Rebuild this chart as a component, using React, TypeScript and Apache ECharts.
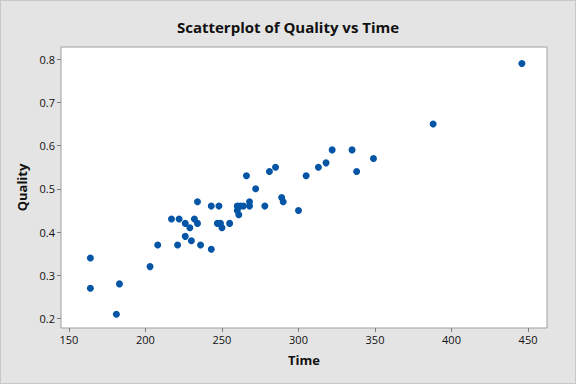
import React, { useEffect, useRef } from "react";
import * as echarts from "echarts";

const timeValues = [164, 164, 181, 183, 203, 208, 217, 221, 222, 226, 226, 229, 230, 232, 234, 234, 236, 243, 243, 247, 248, 249, 250, 255, 260, 260, 261, 262, 264, 266, 268, 268, 272, 278, 281, 285, 289, 290, 300, 305, 313, 318, 322, 335, 338, 349, 388, 446];
const qualityValues = [0.34, 0.27, 0.21, 0.28, 0.32, 0.37, 0.43, 0.37, 0.43, 0.42, 0.39, 0.41, 0.38, 0.43, 0.42, 0.47, 0.37, 0.46, 0.36, 0.42, 0.46, 0.42, 0.41, 0.42, 0.46, 0.45, 0.44, 0.46, 0.46, 0.53, 0.47, 0.46, 0.50, 0.46, 0.54, 0.55, 0.48, 0.47, 0.45, 0.53, 0.55, 0.56, 0.59, 0.59, 0.54, 0.57, 0.65, 0.79];
const xTicks = [150, 200, 250, 300, 350, 400, 450];
const yTicks = [0.2, 0.3, 0.4, 0.5, 0.6, 0.7, 0.8];

const FONT = "'Open Sans', 'Noto Sans', sans-serif";

export default function App() {
  const ref = useRef<HTMLDivElement>(null);
  useEffect(() => {
    if (!ref.current) return;
    const chart = echarts.init(ref.current, undefined, { renderer: "svg" });
    const data = timeValues.map((t, i) => [t, qualityValues[i]]);
    chart.setOption({
      animation: false,
      backgroundColor: "#e4e4e4",
      title: {
        text: "Scatterplot of Quality vs Time",
        left: "center",
        top: 13,
        textStyle: { fontFamily: FONT, fontSize: 15, fontWeight: "bold", color: "#111" },
      },
      grid: {
        left: 60,
        right: 28,
        top: 46,
        bottom: 55,
        show: true,
        backgroundColor: "#ffffff",
        borderColor: "#a0a0a0",
        borderWidth: 1,
      },
      xAxis: {
        type: "value",
        min: 144.8,
        max: 462.4,
        name: "Time",
        nameLocation: "middle",
        nameGap: 25,
        nameTextStyle: { fontFamily: FONT, fontSize: 13, fontWeight: "bold", color: "#111" },
        splitLine: { show: false },
        axisLine: { show: false },
        axisTick: { show: true, length: 4, lineStyle: { color: "#808080" }, customValues: xTicks },
        axisLabel: { fontFamily: FONT, fontSize: 11, color: "#111", margin: 6, customValues: xTicks },
      },
      yAxis: {
        type: "value",
        min: 0.178,
        max: 0.828,
        name: "Quality",
        nameLocation: "middle",
        nameGap: 33,
        nameTextStyle: { fontFamily: FONT, fontSize: 13, fontWeight: "bold", color: "#111" },
        splitLine: { show: false },
        axisLine: { show: false },
        axisTick: { show: true, length: 4, lineStyle: { color: "#808080" }, customValues: yTicks },
        axisLabel: {
          fontFamily: FONT,
          fontSize: 11,
          color: "#111",
          margin: 6,
          customValues: yTicks,
          formatter: (v: number) => v.toFixed(1),
        },
      },
      series: [
        {
          type: "scatter",
          data,
          symbol: "circle",
          symbolSize: 7,
          itemStyle: { color: "#0455a6", opacity: 1 },
        },
      ],
    });
    return () => chart.dispose();
  }, []);
  return (
    <div
      ref={ref}
      style={{
        position: "fixed",
        left: 0,
        top: 0,
        width: 576,
        height: 384,
        boxSizing: "border-box",
        border: "1px solid #c8c8c8",
      }}
    />
  );
}
